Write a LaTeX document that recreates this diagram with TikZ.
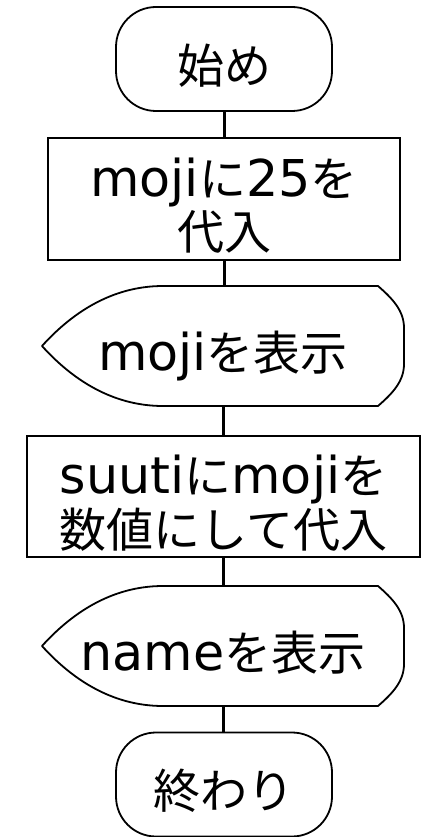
\documentclass[tikz,border=0pt]{standalone}
\usepackage{fontspec}
\setmainfont{Noto Sans CJK JP}
\newfontfamily\lat[Scale=1.08]{DejaVu Sans}
\newcommand\lowtext[1]{\raisebox{-12pt}[\height][\depth]{\begin{tabular}{@{}c@{}}#1\end{tabular}}}
\begin{document}
\begin{tikzpicture}[x=1pt,y=-1pt,
  txt/.style={font=\fontsize{47}{49}\selectfont},
  term/.style={txt,draw,line width=1.8pt,rounded corners=40pt,minimum width=216pt,minimum height=104pt,inner sep=0pt},
  proc/.style={txt,draw,line width=1.8pt,inner sep=0pt,align=center},
  disp/.style={txt,inner sep=0pt,minimum width=362pt,minimum height=120pt},
  displine/.style={line width=1.8pt,line join=round},
  conn/.style={line width=3pt}]
\useasboundingbox (0,0) rectangle (429,837);
\node[term] (start) at (224,59) {\lowtext{始め}};
\node[proc,minimum width=352pt,minimum height=122pt] (p1) at (224,199) {\lowtext{{\lat moji}に{\lat 25}を\\代入}};
\node[disp] (d1) at (223,346) {\lowtext{{\lat moji}を表示}};
\node[proc,minimum width=393pt,minimum height=121pt] (p2) at (223.5,496.5) {\lowtext{{\lat suuti}に{\lat moji}を\\数値にして代入}};
\node[disp] (d2) at (223,646) {\lowtext{{\lat name}を表示}};
\node[term] (end) at (224,784.5) {\lowtext{終わり}};
\foreach \n in {d1,d2}{
  \begin{scope}[shift={(\n.center)}]
    \draw[displine] (-60,-60) -- (155,-60) .. controls (170,-47) and (181,-35) .. (181,-18)
      -- (181,18) .. controls (181,35) and (170,47) .. (155,60) -- (-60,60)
      .. controls (-113,60) and (-153,31) .. (-181,0)
      .. controls (-153,-31) and (-113,-60) .. (-60,-60) -- cycle;
  \end{scope}
}
\draw[conn] (start.south) -- (start.south |- p1.north);
\draw[conn] (p1.south) -- (p1.south |- d1.north);
\draw[conn] (d1.south) -- (d1.south |- p2.north);
\draw[conn] (p2.south) -- (p2.south |- d2.north);
\draw[conn] (d2.south) -- (d2.south |- end.north);
\end{tikzpicture}
\end{document}
